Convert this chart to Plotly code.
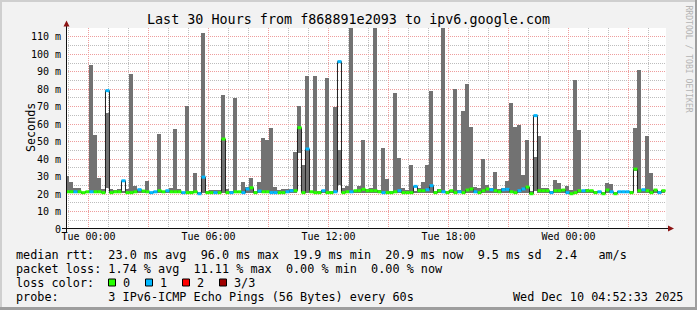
import plotly.graph_objects as go
from datetime import datetime, timedelta

# ---------------- data ----------------
title_text = "Last 30 Hours from f868891e2093 to ipv6.google.com"
range_start = "2025-12-08 22:52:33"
range_end = "2025-12-10 04:52:33"
first_bin = datetime(2025, 12, 8, 22, 51)
bin_minutes = 12

# smoke (min..max of pings) per 12-minute bin, in ms
smoke_lo = [20.8, 20.8, 20.8, 20.8, 20.6, 20.8, 20.8, 20.8, 20.8, 20.8,
            23.2, 20.8, 20.8, 20.8, 20.8, 20.8, 20.8, 20.8, 20.8, 20.8,
            20.8, 20.5, 20.8, 20.8, 20.8, 20.8, 20.8, 20.8, 20.8, 20.5,
            20.8, 20.8, 20.8, 20.2, 20.8, 20.8, 20.8, 20.8, 20.8, 20.8,
            20.8, 20.8, 20.8, 20.8, 20.8, 20.8, 20.8, 20.8, 20.8, 20.8,
            20.8, 20.8, 20.8, 20.8, 20.8, 20.8, 20.8, 20.8, 43.3, 21.3,
            20.8, 20.8, 20.8, 20.8, 20.8, 20.8, 20.8, 20.8, 25.2, 20.8,
            20.8, 20.8, 20.8, 20.8, 20.8, 20.8, 20.8, 20.8, 20.8, 20.8,
            20.8, 20.8, 20.8, 20.8, 20.8, 20.8, 20.8, 20.8, 20.8, 20.8,
            20.8, 20.8, 20.8, 20.8, 20.8, 20.8, 20.8, 20.8, 20.8, 20.8,
            20.8, 20.8, 20.8, 20.8, 20.8, 20.8, 20.8, 20.8, 20.8, 20.8,
            20.8, 20.8, 20.8, 20.8, 20.8, 20.8, 20.2, 21.5, 20.8, 20.8,
            20.8, 20.8, 20.8, 20.8, 20.8, 20.8, 20.2, 20.8, 20.8, 20.8,
            20.8, 20.8, 20.8, 20.8, 20.2, 20.8, 20.8, 20.2, 20.8, 20.8,
            20.8, 20.8, 33.0, 20.8, 20.8, 20.8, 20.8, 20.8, 20.8, 20.8]
smoke_hi = [30.3, 27.0, 23.6, 23.6, 21.3, 22.0, 94.0, 53.8, 29.0, 23.0,
            66.2, 23.0, 22.3, 23.0, 22.0, 22.9, 88.8, 24.6, 21.5, 21.9,
            27.6, 21.0, 21.5, 54.4, 21.9, 22.0, 23.6, 57.2, 23.0, 21.3,
            70.4, 21.9, 32.0, 21.3, 112.3, 21.9, 22.3, 22.3, 22.3, 76.7,
            22.9, 21.3, 75.0, 21.9, 26.9, 24.2, 29.2, 21.9, 26.9, 52.0,
            51.0, 57.8, 24.0, 22.3, 22.9, 22.9, 22.9, 44.3, 70.4, 36.6,
            87.6, 21.9, 87.6, 21.9, 22.3, 86.5, 21.9, 70.0, 45.2, 23.2,
            24.6, 116.0, 21.9, 24.6, 51.0, 22.9, 23.2, 116.0, 22.3, 46.2,
            28.6, 21.9, 77.9, 40.6, 23.2, 22.3, 36.6, 21.5, 23.2, 26.9,
            36.6, 79.0, 21.9, 22.9, 116.0, 21.9, 22.3, 80.2, 22.3, 67.6,
            83.0, 58.4, 23.8, 23.6, 40.0, 25.2, 23.2, 32.6, 22.9, 23.2,
            27.4, 72.1, 58.4, 59.5, 30.9, 51.0, 21.9, 41.0, 53.2, 23.6,
            23.2, 21.9, 28.0, 26.3, 22.9, 24.6, 22.3, 85.3, 56.7, 21.9,
            22.9, 22.3, 21.3, 21.3, 21.3, 26.3, 25.7, 21.3, 21.3, 21.3,
            21.3, 21.3, 57.8, 91.0, 21.9, 53.2, 32.0, 22.3, 21.9, 22.3]
median_rtt = [21.3, 21.3, 21.3, 21.3, 20.8, 21.3, 21.3, 21.3, 21.3, 20.8,
              79.2, 20.8, 21.3, 21.3, 27.6, 20.8, 20.8, 21.3, 22.5, 21.7,
              21.3, 20.8, 21.3, 21.9, 21.3, 21.9, 21.3, 21.3, 21.3, 20.8,
              20.8, 20.8, 21.3, 20.2, 29.7, 20.8, 20.8, 20.8, 20.8, 51.5,
              20.8, 20.8, 21.3, 21.3, 20.8, 22.9, 23.6, 20.8, 21.7, 21.3,
              21.3, 20.8, 20.8, 20.8, 20.8, 21.3, 21.9, 21.9, 58.0, 20.8,
              45.8, 21.3, 20.8, 20.8, 21.9, 20.8, 20.8, 21.3, 95.8, 20.8,
              21.3, 21.3, 21.9, 21.9, 22.7, 21.9, 21.9, 21.9, 21.3, 20.8,
              20.8, 20.8, 21.3, 21.9, 20.8, 20.8, 20.8, 24.4, 21.9, 21.9,
              22.5, 24.8, 20.8, 21.9, 21.3, 20.8, 21.9, 20.8, 21.3, 20.8,
              22.3, 22.9, 21.3, 20.8, 21.9, 22.9, 22.5, 21.9, 21.3, 22.5,
              22.7, 21.3, 20.8, 21.9, 22.9, 24.0, 20.2, 64.9, 21.9, 21.9,
              21.9, 20.8, 21.9, 21.9, 22.3, 20.8, 20.2, 20.8, 21.9, 21.9,
              21.9, 21.9, 20.8, 21.3, 20.2, 22.3, 21.3, 20.2, 21.3, 21.3,
              21.3, 20.8, 34.3, 21.9, 22.5, 21.9, 20.8, 22.3, 20.8, 21.9]
lost_pings = [0, 0, 1, 0, 0, 0, 1, 0, 0, 0,
              1, 0, 0, 0, 1, 0, 0, 0, 1, 0,
              0, 1, 1, 0, 0, 1, 0, 0, 0, 1,
              0, 0, 0, 1, 1, 0, 0, 1, 0, 0,
              0, 1, 0, 0, 1, 1, 0, 0, 1, 0,
              0, 1, 1, 0, 0, 1, 1, 0, 0, 0,
              1, 0, 0, 0, 1, 0, 0, 1, 1, 0,
              0, 1, 0, 0, 0, 0, 0, 0, 0, 1,
              0, 0, 0, 1, 0, 0, 0, 1, 0, 0,
              1, 1, 0, 0, 1, 0, 0, 0, 1, 0,
              0, 0, 1, 0, 0, 0, 1, 0, 0, 1,
              1, 0, 0, 1, 1, 0, 0, 1, 0, 0,
              0, 1, 0, 0, 0, 1, 0, 0, 0, 1,
              0, 0, 0, 1, 0, 0, 1, 0, 1, 1,
              1, 0, 0, 0, 1, 0, 0, 0, 1, 0]

loss_labels = ["0", "1", "2", "3/3"]
loss_colors = ["#26ff00", "#00b8ff", "#ff0000", "#a00000"]

ytick_vals = [0, 10, 20, 30, 40, 50, 60, 70, 80, 90, 100, 110]
ytick_text = ["0", "10 m", "20 m", "30 m", "40 m", "50 m", "60 m",
              "70 m", "80 m", "90 m", "100 m", "110 m"]
xtick_vals = ["2025-12-09 00:00", "2025-12-09 03:00", "2025-12-09 06:00",
              "2025-12-09 09:00", "2025-12-09 12:00", "2025-12-09 15:00",
              "2025-12-09 18:00", "2025-12-09 21:00", "2025-12-10 00:00",
              "2025-12-10 03:00"]
xtick_text = ["Tue 00:00", "", "Tue 06:00", "", "Tue 12:00", "",
              "Tue 18:00", "", "Wed 00:00", ""]

legend_lines = [
    [(15.5, "median rtt:  23.0 ms avg  96.0 ms max  19.9 ms min  20.9 ms now  9.5 ms sd  2.4   am/s")],
    [(15.5, "packet loss: 1.74 % avg  11.11 % max  0.00 % min  0.00 % now")],
    [(15.5, "loss color:"), (122.6, "0"), (159.6, "1"), (196.6, "2"), (233.6, "3/3")],
    [(15.5, "probe:       3 IPv6-ICMP Echo Pings (56 Bytes) every 60s"),
     (512.6, "Wed Dec 10 04:52:33 2025")],
]
legend_line_y = [254.5, 268.5, 282.5, 296.5]
legend_box_x = [108.5, 145.5, 182.5, 219.5]

# ---------------- geometry helpers ----------------
W, H = 697, 310
L, R, T, B = 66, 31, 28, 81
PW, PH = W - L - R, H - T - B
MONO = "DejaVu Sans Mono"


def PX(px):
    return (px - L) / PW


def PY(py):
    return (H - B - py) / PH


n = len(median_rtt)
edges = [first_bin + timedelta(minutes=bin_minutes * i) for i in range(n + 1)]
centers = [e + timedelta(minutes=bin_minutes / 2) for e in edges[:-1]]

fig = go.Figure()

# smoke
fig.add_trace(go.Bar(
    x=centers, y=[h - l for h, l in zip(smoke_hi, smoke_lo)], base=smoke_lo,
    width=bin_minutes * 60 * 1000, marker=dict(color="#727272", line=dict(width=0)),
    hoverinfo="skip", showlegend=False))

# median dark step line
fig.add_trace(go.Scatter(
    x=edges, y=median_rtt + [median_rtt[-1]], mode="lines",
    line=dict(color="#202020", width=1, shape="hv"),
    hoverinfo="skip", showlegend=False))

# coloured median per loss class
for c, col in enumerate(loss_colors):
    xs, ys = [], []
    for i in range(n):
        if lost_pings[i] == c:
            xs += [edges[i], edges[i + 1], None]
            ys += [median_rtt[i], median_rtt[i], None]
    if xs:
        fig.add_trace(go.Scatter(x=xs, y=ys, mode="lines",
                                 line=dict(color=col, width=3),
                                 hoverinfo="skip", showlegend=False))

shapes = []
# frame shading
shapes += [
    dict(type="rect", xref="paper", yref="paper", x0=PX(0), x1=PX(W), y0=PY(0), y1=PY(2),
         fillcolor="#cfcfcf", line_width=0, layer="above"),
    dict(type="rect", xref="paper", yref="paper", x0=PX(0), x1=PX(2), y0=PY(0), y1=PY(H),
         fillcolor="#cfcfcf", line_width=0, layer="above"),
    dict(type="rect", xref="paper", yref="paper", x0=PX(0), x1=PX(W), y0=PY(307), y1=PY(H),
         fillcolor="#9e9e9e", line_width=0, layer="above"),
    dict(type="rect", xref="paper", yref="paper", x0=PX(695), x1=PX(W), y0=PY(0), y1=PY(H),
         fillcolor="#9e9e9e", line_width=0, layer="above"),
]
# axes
shapes += [
    dict(type="line", xref="paper", yref="paper", x0=PX(62), x1=PX(669), y0=PY(228.5), y1=PY(228.5),
         line=dict(color="#101010", width=1), layer="above"),
    dict(type="line", xref="paper", yref="paper", x0=PX(66.5), x1=PX(66.5), y0=PY(233), y1=PY(25),
         line=dict(color="#101010", width=1), layer="above"),
    dict(type="path", xref="paper", yref="paper",
         path=f"M {PX(63.5)},{PY(26.5)} L {PX(69.5)},{PY(26.5)} L {PX(66.5)},{PY(20.5)} Z",
         fillcolor="#8c1414", line_width=0, layer="above"),
    dict(type="path", xref="paper", yref="paper",
         path=f"M {PX(668)},{PY(225.5)} L {PX(668)},{PY(231.5)} L {PX(674)},{PY(228.5)} Z",
         fillcolor="#8c1414", line_width=0, layer="above"),
]
# legend colour boxes
for bx, col in zip(legend_box_x, loss_colors):
    shapes.append(dict(type="rect", xref="paper", yref="paper",
                       x0=PX(bx), x1=PX(bx + 7), y0=PY(286), y1=PY(279),
                       fillcolor=col, line=dict(color="#000000", width=1), layer="above"))

annotations = [
    dict(text=title_text, x=PX(348), y=PY(19.5), xref="paper", yref="paper",
         xanchor="center", yanchor="middle", showarrow=False,
         font=dict(family=MONO, size=13.4, color="#000000")),
    dict(text="Seconds", x=PX(30.5), y=PY(127.5), xref="paper", yref="paper",
         xanchor="center", yanchor="middle", showarrow=False, textangle=-90,
         font=dict(family=MONO, size=11.7, color="#000000")),
    dict(text="RRDTOOL / TOBI OETIKER", x=PX(688.5), y=PY(59), xref="paper", yref="paper",
         xanchor="center", yanchor="middle", showarrow=False, textangle=90,
         font=dict(family=MONO, size=8.1, color="#b4b4b4")),
]
for line, ly in zip(legend_lines, legend_line_y):
    for lx, txt in line:
        annotations.append(dict(text=txt.replace(" ", "\u00a0"), x=PX(lx), y=PY(ly),
                                xref="paper", yref="paper", xanchor="left", yanchor="middle",
                                showarrow=False, borderpad=0, borderwidth=0,
                                font=dict(family=MONO, size=11.8, color="#000000")))

grid_minor = "#bdbdbd"
grid_major = "#ee9d9d"

fig.update_layout(
    width=W, height=H,
    margin=dict(l=L, r=R, t=T, b=B, pad=0),
    paper_bgcolor="#f2f2f2", plot_bgcolor="#ffffff",
    bargap=0, showlegend=False,
    xaxis=dict(type="date", range=[range_start, range_end],
               tickmode="array", tickvals=xtick_vals, ticktext=xtick_text,
               ticks="", showline=False, zeroline=False,
               showgrid=True, gridcolor=grid_major, gridwidth=1, griddash="1px,1px",
               minor=dict(tickmode="linear", tick0="2025-12-09 00:00", dtick=3600000,
                          showgrid=True, gridcolor=grid_minor, gridwidth=1, griddash="1px,1px"),
               tickfont=dict(family=MONO, size=10, color="#000000"), fixedrange=True),
    yaxis=dict(range=[0, 115.05], tickmode="array", tickvals=ytick_vals, ticktext=ytick_text,
               ticks="", showline=False, zeroline=False, ticklabelstandoff=4,
               showgrid=True, gridcolor=grid_major, gridwidth=1, griddash="1px,1px",
               minor=dict(tickmode="linear", tick0=0, dtick=5,
                          showgrid=True, gridcolor=grid_minor, gridwidth=1, griddash="1px,1px"),
               tickfont=dict(family=MONO, size=10, color="#000000"), fixedrange=True),
    shapes=shapes, annotations=annotations,
)

fig.write_html("out.html")
